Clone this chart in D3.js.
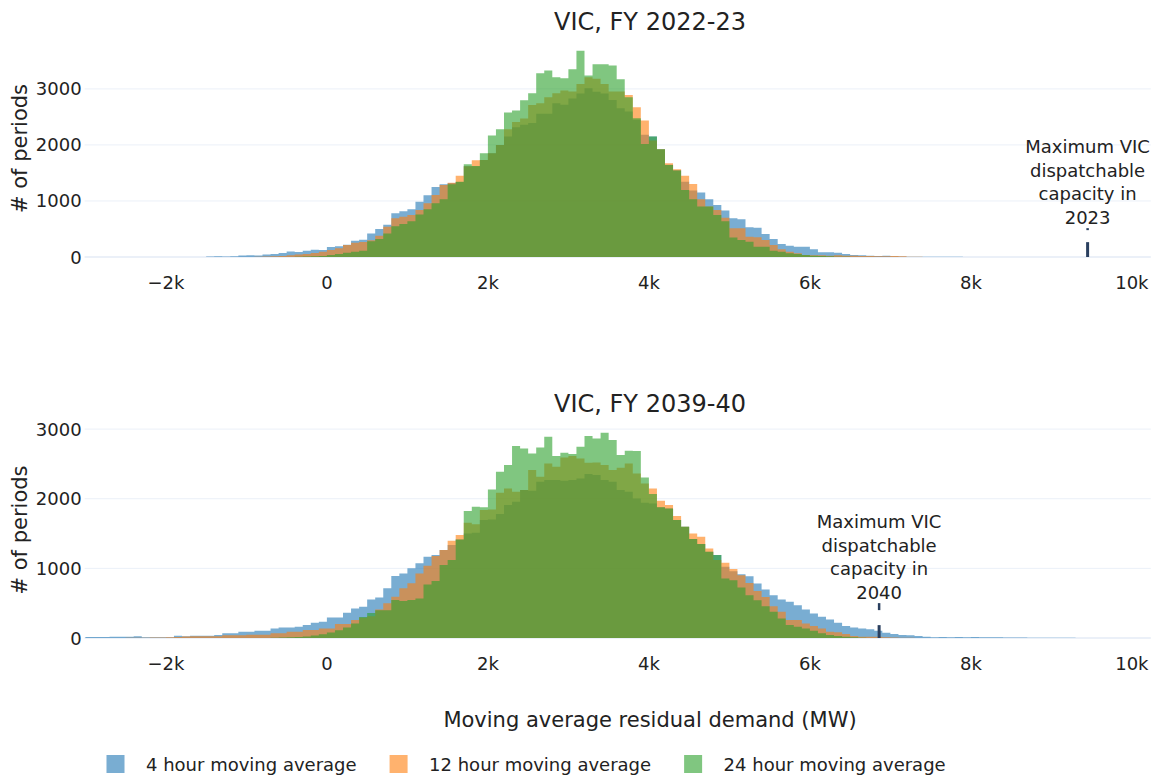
<!DOCTYPE html>
<html><head><meta charset="utf-8">
<script src="https://cdn.jsdelivr.net/npm/d3@7"></script>
<style>
body{margin:0;background:#fff}
text{font-family:"DejaVu Sans",sans-serif;fill:#222}
</style>
</head><body>
<svg id="c" width="1161" height="776"></svg>
<script>
// ---------- DATA ----------
const binStart = -3000;   // first bin left edge (MW)
const binWidth = 100;     // bin width (MW)

// FY 2022-23 counts, bins -3000 .. 10000
const top4h = [
  0,0,0,0,0,0,0,0,0,0,
  0,0,0,0,0,10,15,10,15,25,
  30,25,45,55,70,100,90,110,130,125,
  180,190,220,290,310,420,500,575,780,815,
  850,985,1100,1250,1300,1320,1340,1620,1620,1730,
  1850,2000,2150,2315,2360,2390,2555,2555,2745,2715,
  2830,2920,3010,2950,2920,2800,2655,2595,2450,2180,
  2150,1925,1645,1550,1345,1185,1150,1030,930,830,
  690,673,530,524,411,321,232,202,185,185,
  137,83,83,77,54,36,30,24,18,24,
  12,8,6,6,6,5,5,4,3,2,
  2,0,0,0,0,0,0,0,0,0,
  0,0,0,0,0,0,0,0,0,0,
  0
];
const top12h = [
  0,0,0,0,0,0,0,0,0,0,
  0,0,0,0,0,0,0,0,0,0,
  0,5,10,15,20,30,45,55,70,95,
  125,155,214,256,268,300,380,540,690,720,
  750,840,958,1107,1286,1327,1450,1620,1726,1732,
  1851,2000,2280,2410,2470,2714,2744,2851,2923,2970,
  2952,3089,3208,3179,3089,2952,2952,2893,2673,2435,
  2080,1923,1673,1565,1452,1304,1030,899,839,700,
  512,512,363,351,304,214,137,95,65,36,
  30,30,24,30,24,24,18,18,12,12,
  18,12,5,3,0,0,0,0,0,0,
  0,0,0,0,0,0,0,0,0,0,
  0,0,0,0,0,0,0,0,0,0,
  0
];
const top24h = [
  0,0,0,0,0,0,0,0,0,0,
  0,0,0,0,0,0,0,0,0,0,
  0,0,0,0,0,0,5,8,12,20,
  36,54,77,95,113,280,320,420,550,590,
  640,760,850,960,1030,1300,1345,1655,1625,1851,
  2170,2280,2577,2613,2798,2923,3280,3327,3208,3190,
  3351,3679,3238,3440,3440,3417,3173,2851,2476,2018,
  2150,1923,1643,1542,1196,1030,899,899,750,640,
  350,304,274,185,185,113,95,65,54,36,
  24,18,12,6,4,0,0,0,0,0,
  0,0,0,0,0,0,0,0,0,0,
  0,0,0,0,0,0,0,0,0,0,
  0,0,0,0,0,0,0,0,0,0,
  0
];

// FY 2039-40 counts, bins -3000 .. 10000
const bot4h = [
  14,14,14,19,19,19,24,10,10,10,
  10,33,24,33,33,33,43,67,67,90,
  90,105,105,138,152,152,162,186,219,233,
  295,295,362,424,448,552,581,713,890,928,
  1000,1072,1167,1191,1263,1335,1416,1502,1512,1694,
  1703,1780,1909,1957,2124,2115,2244,2268,2268,2258,
  2268,2292,2354,2340,2268,2244,2124,2100,2005,1943,
  1933,1876,1861,1694,1598,1421,1349,1239,1191,1024,
  960,914,886,781,695,614,552,519,471,410,
  352,305,267,219,171,152,138,124,105,76,
  57,43,38,29,19,10,14,10,14,10,
  14,10,10,10,8,8,6,4,4,3,
  3,2,2,0,0,0,0,0,0,0,
  0
];
const bot12h = [
  0,0,0,0,0,3,5,5,8,8,
  10,15,20,26,26,26,26,38,38,38,
  48,48,48,67,67,90,90,114,114,138,
  138,200,200,257,290,314,410,500,593,713,
  785,928,1038,1177,1263,1397,1478,1655,1632,1837,
  1847,2086,2148,2100,2124,2411,2316,2507,2459,2593,
  2612,2579,2517,2522,2483,2411,2445,2507,2364,2220,
  2148,1971,1909,1751,1598,1502,1455,1287,1120,1081,
  990,900,790,676,590,457,376,257,257,210,
  171,138,90,81,57,29,19,19,19,10,
  8,5,3,0,0,0,0,0,0,0,
  0,0,0,0,0,0,0,0,0,0,
  0,0,0,0,0,0,0,0,0,0,
  0
];
const bot24h = [
  0,0,0,0,0,0,0,0,0,0,
  0,0,0,0,0,0,0,0,0,0,
  0,0,0,5,8,10,15,20,35,55,
  80,110,150,210,300,360,400,400,545,531,
  545,569,770,818,1048,1120,1416,1823,1885,1876,
  2134,2388,2483,2756,2722,2651,2737,2890,2612,2660,
  2641,2746,2900,2866,2947,2842,2627,2689,2684,2306,
  2067,1876,1861,1694,1598,1421,1349,1239,1191,856,
  829,724,614,543,457,376,281,186,162,138,
  105,67,43,29,19,10,5,0,0,0,
  0,0,0,0,0,0,0,0,0,0,
  0,0,0,0,0,0,0,0,0,0,
  0,0,0,0,0,0,0,0,0,0,
  0
];

const seriesNames = ["4 hour moving average", "12 hour moving average", "24 hour moving average"];
const panelTitles = ["VIC, FY 2022-23", "VIC, FY 2039-40"];
const xTicks = [-2000, 0, 2000, 4000, 6000, 8000, 10000];
const xTickLabels = ["\u22122k", "0", "2k", "4k", "6k", "8k", "10k"];
const yTicks = [0, 1000, 2000, 3000];
const yTickLabels = ["0", "1000", "2000", "3000"];
const capacityX = [9450, 6860];          // MW
const capacityMark = [265, 185];         // height of marker (# periods)
const capacityYear = ["2023", "2040"];
const xTitle = "Moving average residual demand (MW)";
const yTitle = "# of periods";

// ---------- STYLE / LAYOUT ----------
const colors = ["#1f77b4", "#ff7f0e", "#2ca02c"];
const opacity = 0.6;
const gridColor = "#EBF0F8";
const annColor = "#2a3f5f";
const plotLeft = 84.6, plotRight = 1150.8;
const layout = [
  {top: 40, bottom: 257, series: [top4h, top12h, top24h], textGap: 18, dash: [12, 14]},
  {top: 422, bottom: 638, series: [bot4h, bot12h, bot24h], textGap: 26, dash: [15, 22]}
];

const svg = d3.select("#c");
const x = d3.scaleLinear().domain([-3010, 10235]).range([plotLeft, plotRight]);

layout.forEach((p, pi) => {
  const maxV = d3.max(p.series, s => d3.max(s));
  const y = d3.scaleLinear().domain([0, maxV * 1.0526]).range([p.bottom, p.top]);
  const g = svg.append("g");

  // clip
  const cid = "clip" + pi;
  svg.append("clipPath").attr("id", cid).append("rect")
    .attr("x", plotLeft).attr("y", p.top - 2).attr("width", plotRight - plotLeft).attr("height", p.bottom - p.top + 4);

  // gridlines
  g.selectAll("line.grid").data(yTicks).enter().append("line")
    .attr("x1", plotLeft).attr("x2", plotRight)
    .attr("y1", d => y(d)).attr("y2", d => y(d))
    .attr("stroke", gridColor).attr("stroke-width", d => d === 0 ? 2 : 1);

  // histograms
  const area = d3.area()
    .x(d => x(d.x0))
    .y0(y(0))
    .y1(d => y(d.c))
    .curve(d3.curveStepAfter);
  const dataG = g.append("g").attr("clip-path", `url(#${cid})`);
  p.series.forEach((s, si) => {
    const pts = s.map((c, i) => ({x0: binStart + i * binWidth, c}));
    pts.push({x0: binStart + s.length * binWidth, c: 0});
    dataG.append("path").datum(pts)
      .attr("d", area)
      .attr("fill", colors[si]).attr("fill-opacity", opacity);
  });

  // y tick labels
  g.selectAll("text.yt").data(yTicks).enter().append("text")
    .attr("x", plotLeft - 3).attr("y", d => y(d) + 6.5)
    .attr("text-anchor", "end").attr("font-size", 18)
    .text((d, i) => yTickLabels[i]);

  // x tick labels
  g.selectAll("text.xt").data(xTicks).enter().append("text")
    .attr("x", d => x(d)).attr("y", p.bottom + 32)
    .attr("text-anchor", "middle").attr("font-size", 18)
    .text((d, i) => xTickLabels[i]);

  // title
  g.append("text").attr("x", 650).attr("y", p.top - 10.5)
    .attr("text-anchor", "middle").attr("font-size", 24).text(panelTitles[pi]);

  // y title
  g.append("text")
    .attr("transform", `translate(27,${(p.top + p.bottom) / 2}) rotate(-90)`)
    .attr("text-anchor", "middle").attr("font-size", 21).text(yTitle);

  // annotation
  const ax = x(capacityX[pi]);
  const barTop = y(capacityMark[pi]);
  g.append("line").attr("x1", ax).attr("x2", ax)
    .attr("y1", y(0)).attr("y2", barTop)
    .attr("stroke", annColor).attr("stroke-width", 3);
  g.append("line").attr("x1", ax).attr("x2", ax)
    .attr("y1", barTop - p.dash[0]).attr("y2", barTop - p.dash[1])
    .attr("stroke", annColor).attr("stroke-width", 2.5);
  const lines = ["Maximum VIC", "dispatchable", "capacity in", capacityYear[pi]];
  const lastBase = barTop - p.textGap;
  lines.forEach((t, k) => {
    g.append("text").attr("x", ax).attr("y", lastBase - (lines.length - 1 - k) * 23.7)
      .attr("text-anchor", "middle").attr("font-size", 18).text(t);
  });
});

// x axis title
svg.append("text").attr("x", 650).attr("y", 727)
  .attr("text-anchor", "middle").attr("font-size", 21).text(xTitle);

// legend
let cursor = 106.5;
seriesNames.forEach((n, i) => {
  svg.append("rect").attr("x", cursor).attr("y", 755).attr("width", 18).attr("height", 18)
    .attr("fill", colors[i]).attr("fill-opacity", opacity);
  const t = svg.append("text").attr("x", cursor + 39.5).attr("y", 770.5)
    .attr("font-size", 18).text(n);
  const w = t.node().getComputedTextLength();
  cursor = cursor + 39.5 + w + 33;
});
</script>
</body></html>
